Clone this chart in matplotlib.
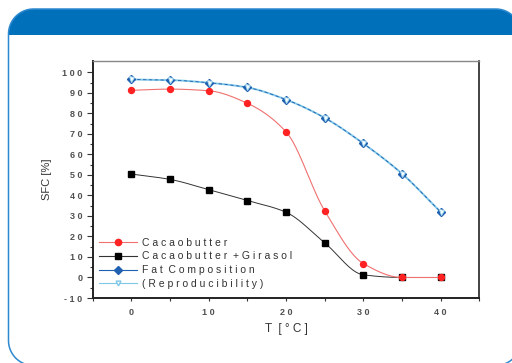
import matplotlib
matplotlib.use('Agg')
import matplotlib.pyplot as plt
from matplotlib.patches import Polygon, Rectangle
from matplotlib.lines import Line2D
import numpy as np

plt.rcParams['font.family'] = ['Liberation Sans', 'DejaVu Sans']

# data
temp = [0, 5, 10, 15, 20, 25, 30, 35, 40]
cacao = [91.2, 91.8, 91.0, 84.9, 71.0, 32.5, 6.8, 0.0, 0.0]
cacao_girasol = [50.4, 47.8, 42.8, 37.5, 31.8, 16.9, 1.3, 0.0, 0.0]
fat_comp = [96.5, 96.2, 94.9, 92.6, 86.7, 77.8, 65.3, 50.6, 31.9]
reprod = [96.5, 96.2, 94.9, 92.6, 86.7, 77.8, 65.3, 50.6, 31.9]

xticks = [0, 10, 20, 30, 40]
yticks = list(range(-10, 101, 10))
labels = ['Cacaobutter', 'Cacaobutter +Girasol', 'Fat Composition', '(Reproducibility)']


def spaced(s):
    return ' '.join(s)


def pchip(x, y, xs):
    # monotone cubic through the points, for the smooth connecting lines
    x = np.asarray(x, float)
    y = np.asarray(y, float)
    h = np.diff(x)
    d = np.diff(y) / h
    m = np.zeros_like(y)
    for k in range(1, len(x) - 1):
        if d[k - 1] * d[k] > 0:
            w1 = 2 * h[k] + h[k - 1]
            w2 = h[k] + 2 * h[k - 1]
            m[k] = (w1 + w2) / (w1 / d[k - 1] + w2 / d[k])
    m[0] = d[0]
    m[-1] = d[-1]
    idx = np.clip(np.searchsorted(x, xs) - 1, 0, len(x) - 2)
    t = (xs - x[idx]) / h[idx]
    h00 = 2 * t**3 - 3 * t**2 + 1
    h10 = t**3 - 2 * t**2 + t
    h01 = -2 * t**3 + 3 * t**2
    h11 = t**3 - t**2
    return h00 * y[idx] + h10 * h[idx] * m[idx] + h01 * y[idx + 1] + h11 * h[idx] * m[idx + 1]


def rounded_rect(x0, y0, x1, y1, r, n=24):
    # polygon outline (y down), sampled arcs so clipping at the figure edge stays clean
    pts = []
    for cx, cy, a0 in [(x0 + r, y0 + r, 180), (x1 - r, y0 + r, 270),
                       (x1 - r, y1 - r, 0), (x0 + r, y1 - r, 90)]:
        t = np.radians(np.linspace(a0, a0 + 90, n))
        pts.append(np.column_stack([cx + r * np.cos(t), cy + r * np.sin(t)]))
    return np.vstack(pts)


W, H = 512, 363
fig = plt.figure(figsize=(W / 100, H / 100), dpi=100)
fig.patch.set_facecolor('white')

# card background (pixel coords, y down)
bg = fig.add_axes([0, 0, 1, 1])
bg.set_xlim(0, W)
bg.set_ylim(H, 0)
bg.axis('off')
outline = rounded_rect(8.5, 9, 520.8, 365.5, 25)
card = Polygon(outline, closed=True, facecolor='#0070ba', edgecolor='none')
bg.add_patch(card)
body = Rectangle((0, 35), W, H, facecolor='white', edgecolor='none')
bg.add_patch(body)
body.set_clip_path(card)
bg.add_patch(Polygon(outline, closed=True, facecolor='none', edgecolor='#2e8ad0', linewidth=1.1))

ax = fig.add_axes([92.7 / W, 1 - 298 / H, 386.6 / W, 237 / H])
ax.set_facecolor('white')

xs = np.linspace(0, 40, 400)
ax.plot(xs, pchip(temp, cacao_girasol, xs), color='#333333', lw=0.7, zorder=2)
ax.plot(temp, cacao_girasol, 's', color='black', ms=4.0, zorder=3)
ax.plot(xs, pchip(temp, cacao, xs), color='#f07070', lw=0.8, zorder=4)
ax.plot(temp, cacao, 'o', color='#ff2222', ms=4.3, zorder=5)
ax.plot(xs, pchip(temp, reprod, xs), color='#80c8e8', lw=1.4, zorder=6)
ax.plot(xs, pchip(temp, fat_comp, xs), color='#2060b0', lw=0.6, ls=(0, (4, 3)), zorder=7)
ax.plot(temp, fat_comp, 'D', color='#2060b0', ms=4.0, zorder=8)
ax.plot(temp, reprod, 'v', mfc='white', mec='#a8dcf0', ms=3.6, mew=0.7, zorder=9)

ax.set_xlim(-5, 45)
ax.set_ylim(-10, 105.5)
ax.set_xticks(xticks)
ax.set_xticklabels([spaced(str(v)) for v in xticks])
ax.set_xticks(np.arange(-5, 46, 5), minor=True)
ax.set_yticks(yticks)
ax.set_yticklabels([spaced(str(v)) for v in yticks])
ax.set_yticks(np.arange(-10, 105, 5), minor=True)
ax.tick_params(axis='both', which='major', direction='out', length=4, width=0.8,
               labelsize=6.5, labelcolor='#505050', color='#333333')
ax.tick_params(axis='both', which='minor', direction='out', length=2.5, width=0.8, color='#333333')
ax.tick_params(axis='x', which='major', length=2.5, pad=5)
for lab in ax.get_xticklabels() + ax.get_yticklabels():
    lab.set_fontweight('bold')
for side in ['left', 'bottom']:
    ax.spines[side].set_linewidth(1.4)
    ax.spines[side].set_color('#222222')
ax.spines['top'].set_linewidth(1.0)
ax.spines['top'].set_color('#888888')
ax.spines['right'].set_linewidth(1.2)
ax.spines['right'].set_color('#222222')

ax.set_xlabel(spaced('T') + '  ' + spaced('[°C]'), fontsize=8.5, color='#333333', labelpad=4)
ax.set_ylabel('SFC [%]', fontsize=8, color='#333333', labelpad=7)

handles = [
    Line2D([], [], color='#f07070', lw=0.8, marker='o', mfc='#ff2222', mec='#ff2222', ms=4.5),
    Line2D([], [], color='#333333', lw=0.8, marker='s', mfc='black', mec='black', ms=4.3),
    Line2D([], [], color='#2060b0', lw=0.8, marker='D', mfc='#2060b0', mec='#2060b0', ms=4.3),
    Line2D([], [], color='#80c8e8', lw=0.8, marker='v', mfc='white', mec='#80c8e8', ms=3.5),
]
leg = ax.legend(handles, [spaced(l).replace('  ', ' ') for l in labels], loc='lower left',
                bbox_to_anchor=(0.0, 0.012), frameon=False, fontsize=7.5, handlelength=3.7,
                handletextpad=0.45, labelspacing=0.36, borderaxespad=0.2)
for t in leg.get_texts():
    t.set_color('#333333')

fig.savefig('out.png', dpi=100, facecolor='white')
